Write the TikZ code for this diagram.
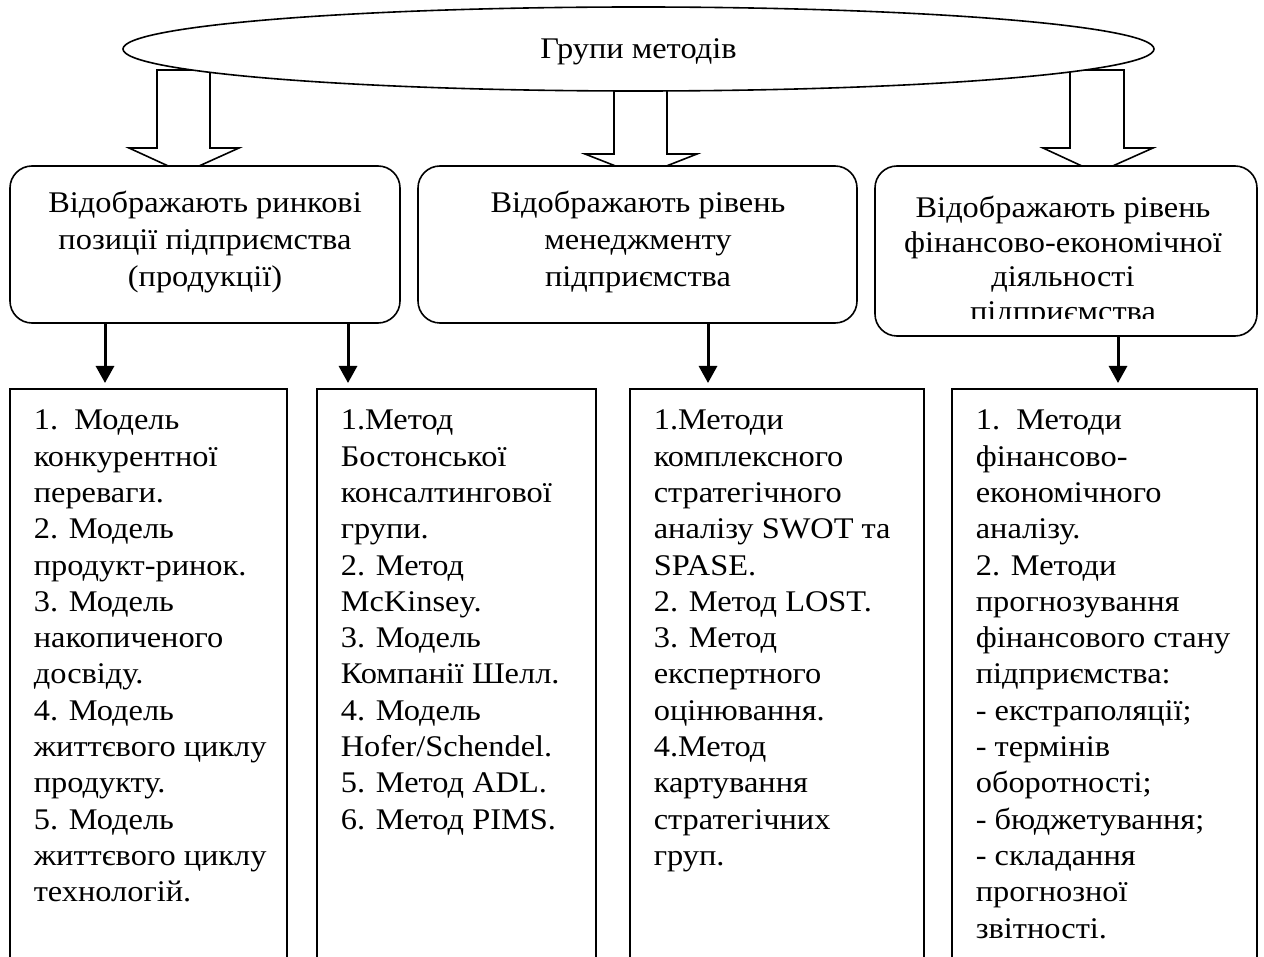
\documentclass[tikz,border=0pt]{standalone}
\usepackage{fontspec}
\setmainfont[FakeStretch=1.08]{Liberation Serif}
\usetikzlibrary{shapes.geometric,arrows.meta}
\begin{document}
\begin{tikzpicture}[x=1pt,y=-1pt,line width=1.6pt,
  rbox/.style={draw,fill=white,rounded corners=22pt,inner sep=0pt},
  lbox/.style={draw=none,fill=white,inner sep=0pt},
  blockarrow/.style={draw,fill=white,line join=miter},
  smallarr/.style={line width=3pt,-{Triangle[width=18pt,length=17pt]}},
  toptext/.style={anchor=north,align=center,inner sep=0pt,font=\fontsize{30}{37}\selectfont},
  toptextb/.style={anchor=north,align=center,inner sep=0pt,font=\fontsize{30}{34.5}\selectfont},
  listtext/.style={anchor=north west,align=left,inner sep=0pt,font=\fontsize{30}{36.3}\selectfont},
  titletext/.style={font=\fontsize{30}{36}\selectfont,text height=20pt,text depth=0pt}]
\useasboundingbox (0,0) rectangle (1264,957);
\fill[white] (0,0) rectangle (1264,957);

% block arrows (behind ellipse and boxes)
\draw[blockarrow] (157,70) -- (157,148) -- (129,148) -- (183.5,173) -- (239,148) -- (210,148) -- (210,70) -- cycle;
\draw[blockarrow] (614,80) -- (614,154) -- (585,154) -- (641,176) -- (697,154) -- (667,154) -- (667,80) -- cycle;
\draw[blockarrow] (1070,70) -- (1070,148) -- (1043,148) -- (1097,173) -- (1153,148) -- (1124,148) -- (1124,70) -- cycle;

% title ellipse
\node[ellipse,draw,fill=white,inner sep=0pt,minimum width=1031pt,minimum height=84pt,titletext] (title) at (638.5,49) {Групи методів};

% rounded category boxes
\node[rbox,minimum width=390pt,minimum height=157pt] (r1) at (205,244.5) {};
\node[rbox,minimum width=439pt,minimum height=157pt] (r2) at (637.5,244.5) {};
\node[rbox,minimum width=382pt,minimum height=170pt] (r3) at (1066,251) {};

\node[toptext] (r1t) at (205,186) {\strut Відображають ринкові\\позиції підприємства\\(продукції)};
\node[toptext] (r2t) at (638,186) {\strut Відображають рівень\\менеджменту\\підприємства};
\begin{scope}
  \clip (875,166) rectangle (1257,319);
  \node[toptextb] (r3t) at (1063,192.9) {\strut Відображають рівень\\фінансово-економічної\\діяльності\\підприємства};
\end{scope}

% list boxes (open at the bottom)
\node[lbox,minimum width=275pt,minimum height=600pt] (b1) at (148.5,690) {};
\node[lbox,minimum width=277pt,minimum height=600pt] (b2) at (456.5,690) {};
\node[lbox,minimum width=292pt,minimum height=600pt] (b3) at (777,690) {};
\node[lbox,minimum width=303pt,minimum height=600pt] (b4) at (1104.5,690) {};
\foreach \b in {b1,b2,b3,b4}
  \draw (\b.south west) -- (\b.north west) -- (\b.north east) -- (\b.south east);

\node[listtext] (t1) at (33,403.6) {\strut 1.\ \ Модель\\конкурентної\\переваги.\\2. Модель\\продукт-ринок.\\3. Модель\\накопиченого\\досвіду.\\4. Модель\\життєвого циклу\\продукту.\\5. Модель\\життєвого циклу\\технологій.};
\node[listtext] (t2) at (340,403.6) {\strut 1.Метод\\Бостонської\\консалтингової\\групи.\\2. Метод\\McKinsey.\\3. Модель\\Компанії Шелл.\\4. Модель\\Hofer/Schendel.\\5. Метод ADL.\\6. Метод PIMS.};
\node[listtext] (t3) at (653,403.6) {\strut 1.Методи\\комплексного\\стратегічного\\аналізу SWOT та\\SPASE.\\2. Метод LOST.\\3. Метод\\експертного\\оцінювання.\\4.Метод\\картування\\стратегічних\\груп.};
\node[listtext] (t4) at (975,403.6) {\strut 1.\ \ Методи\\фінансово-\\економічного\\аналізу.\\2. Методи\\прогнозування\\фінансового стану\\підприємства:\\- екстраполяції;\\- термінів\\оборотності;\\- бюджетування;\\- складання\\прогнозної\\звітності.};

% connectors
\coordinate (a1) at (105,383);
\coordinate (a2) at (348,383);
\coordinate (a3) at (708,383);
\coordinate (a4) at (1118,383);
\draw[smallarr] (a1 |- r1.south) -- (a1);
\draw[smallarr] (a2 |- r1.south) -- (a2);
\draw[smallarr] (a3 |- r2.south) -- (a3);
\draw[smallarr] (a4 |- r3.south) -- (a4);
\end{tikzpicture}
\end{document}
